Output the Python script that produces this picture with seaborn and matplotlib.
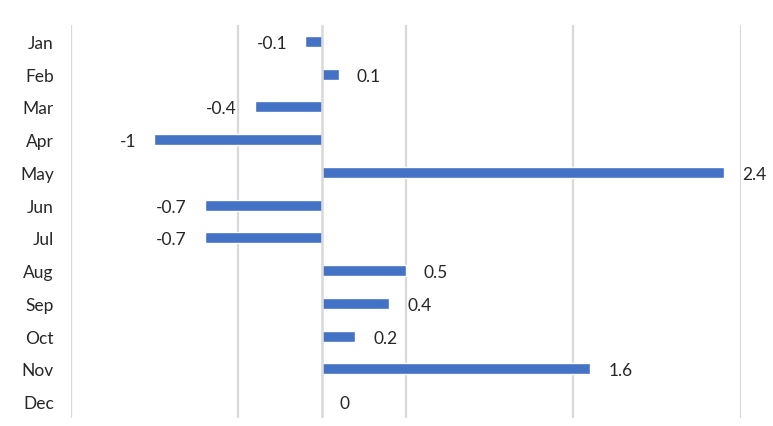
import pandas as pd
import matplotlib.pyplot as plt
import seaborn as sns

# datos
months = ["Jan", "Feb", "Mar", "Apr", "May", "Jun",
          "Jul", "Aug", "Sep", "Oct", "Nov", "Dec"]
values = [-0.1, 0.1, -0.4, -1, 2.4, -0.7, -0.7, 0.5, 0.4, 0.2, 1.6, 0]
grid_ticks = [-1.5, -0.5, 0.5, 1.5, 2.5]

BAR_COLOR = "#4472C4"
GRID_COLOR = "#D9D9D9"
TEXT_COLOR = "#262626"

sns.set_style("white")
plt.rcParams["font.family"] = ["Lato", "DejaVu Sans"]

df = pd.DataFrame({"month": months, "value": values})

fig = plt.figure(figsize=(7.73, 4.27), dpi=100)
ax = fig.add_axes([70.5 / 773, 1 - 419 / 427, (741 - 70.5) / 773, (419 - 26) / 427])

sns.barplot(data=df, x="value", y="month", orient="h", color=BAR_COLOR,
            width=0.33, saturation=1, ax=ax, zorder=2)

ax.set_xlim(-1.5, 2.5)
ax.set_ylim(11.5, -0.5)
ax.set_xticks(grid_ticks)
ax.set_xticklabels([])
ax.tick_params(axis="x", length=0)
ax.tick_params(axis="y", length=0, pad=12, labelsize=12.5, labelcolor=TEXT_COLOR)
ax.grid(axis="x", color=GRID_COLOR, linewidth=1.6, zorder=0)
ax.axvline(0, color=GRID_COLOR, linewidth=1.8, zorder=3)
ax.set_xlabel("")
ax.set_ylabel("")
for s in ax.spines.values():
    s.set_visible(False)

# etiquetas de valor fuera del extremo de cada barra
for i, v in enumerate(values):
    if v < 0:
        ax.annotate(f"{v:g}", (v, i), xytext=(-13, -1), textcoords="offset points",
                    ha="right", va="center", fontsize=12.5, color=TEXT_COLOR)
    else:
        ax.annotate(f"{v:g}", (v, i), xytext=(13, -1), textcoords="offset points",
                    ha="left", va="center", fontsize=12.5, color=TEXT_COLOR)

plt.savefig("out.png", dpi=100)
plt.close()
